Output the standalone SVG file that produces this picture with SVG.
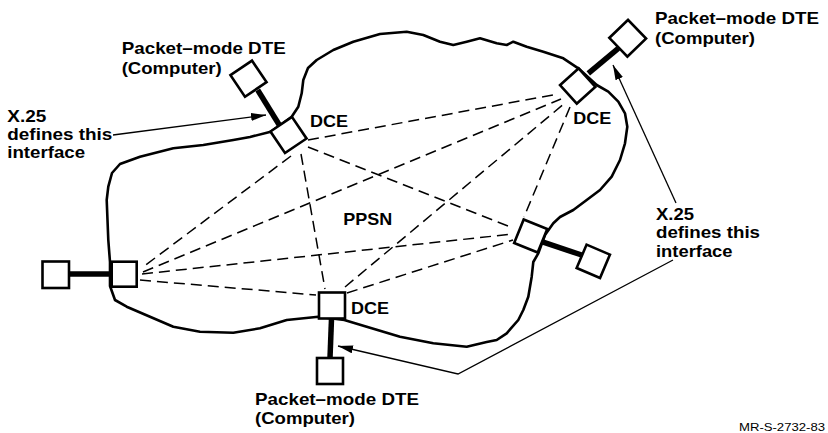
<svg xmlns="http://www.w3.org/2000/svg" width="828" height="433" viewBox="0 0 828 433">
<style>
.bg{fill:#fff}
.cloud{fill:none;stroke:#000;stroke-width:2.6;stroke-linejoin:round;stroke-linecap:round}
.box{fill:#fff;stroke:#000;stroke-width:2.6}
.dash{stroke:#000;stroke-width:1.5;stroke-dasharray:11 6;fill:none}
.link{stroke:#000;stroke-width:5.5;fill:none}
.arr{stroke:#000;stroke-width:1.3;fill:none}
.lbl{font-family:"Liberation Sans",Arial,Helvetica,sans-serif;font-weight:bold;font-size:16.5px;fill:#000}
.code{font-family:"Liberation Sans",Arial,Helvetica,sans-serif;font-size:11px;fill:#000}
</style>
<defs>
<marker id="ah" markerUnits="userSpaceOnUse" markerWidth="16" markerHeight="10" refX="15" refY="4" orient="auto">
<path d="M0,0 L15,4 L0,8 z" fill="#000"/>
</marker>
</defs>
<rect class="bg" x="0" y="0" width="828" height="433"/>
<g id="cloud">
<path class="cloud" d="M291.7,116.7 L298.3,106.7 L301.7,93.3 L303.3,80 L308,68 L316.7,60 L333.3,50 L353.3,41.7 L380,34 L406.7,31.7 L423.3,35 L440,41.7 L453.3,45 L466.7,41.7 L480,38.3 L496.7,43.3 L506.7,45 L513.3,41.7 L526.7,46.7 L543.3,51.7 L563.3,58.3 L578.3,68.3 L596.7,85 L608.3,91.7 L618.3,101.7 L625,113.3 L627.3,126.7 L625,143.3 L620,160 L611.7,176.7 L600,190 L586.7,200 L573.3,210 L560,217 L553.3,223.3 L545,235 L538.3,253.3 L533.3,262 L531.7,276.7 L528.3,296.7 L523.3,310 L518.3,320 L506.7,333.3 L496.7,340 L486.7,342 L466.7,346.7 L433.3,343.3 L400,336.7 L366.7,326.7 L344.3,320 L318.3,316.7 L286.7,320 L260,328.3 L233.3,332.7 L200,331.7 L173.3,326.7 L150,316.7 L126.7,306.7 L115,300 L110,286 L110,262 L108.3,240 L106.7,200 L108.3,186.7 L112,173 L120,164 L140,156.7 L173.3,148.3 L203.3,145 L233.3,140 L250,137 L270.7,131.7 Z"/>
</g>
<g id="connectors">
<line class="dash" x1="308" y1="140" x2="558" y2="94"/>
<line class="dash" x1="308" y1="147" x2="513" y2="228"/>
<line class="dash" x1="301" y1="154" x2="325" y2="289"/>
<line class="dash" x1="291" y1="156" x2="143" y2="267"/>
<line class="dash" x1="143" y1="272" x2="561" y2="99"/>
<line class="dash" x1="142" y1="274" x2="513" y2="234"/>
<line class="dash" x1="140" y1="280" x2="316" y2="295"/>
<line class="dash" x1="345" y1="287" x2="565" y2="103"/>
<line class="dash" x1="347" y1="293" x2="513" y2="240"/>
<line class="dash" x1="570" y1="107" x2="524" y2="217"/>
<line class="link" x1="257.7" y1="90" x2="279.3" y2="125"/>
<line class="link" x1="588.3" y1="73.3" x2="618.3" y2="48.3"/>
<line class="link" x1="69" y1="274" x2="111" y2="274"/>
<line class="link" x1="331.5" y1="319" x2="330" y2="358"/>
<line class="link" x1="541.7" y1="241.7" x2="581.7" y2="255"/>
<line class="arr" x1="113" y1="135" x2="266" y2="115" marker-end="url(#ah)"/>
<line class="arr" x1="676" y1="203" x2="613" y2="65" marker-end="url(#ah)"/>
<polyline class="arr" points="673,260 458,374 338,346" marker-end="url(#ah)"/>
</g>
<g id="dce-top-left"><rect class="box" x="-13" y="-13" width="26" height="26" transform="translate(288.5,135) rotate(-34)"/><text class="lbl" x="310" y="126.7" textLength="38" lengthAdjust="spacingAndGlyphs">DCE</text></g>
<g id="dte-top-left"><rect class="box" x="-13" y="-13" width="26" height="26" transform="translate(248.5,78.7) rotate(-34)"/><text class="lbl" x="121.7" y="54.3" textLength="164" lengthAdjust="spacingAndGlyphs">Packet–mode DTE</text><text class="lbl" x="121.7" y="74" textLength="100" lengthAdjust="spacingAndGlyphs">(Computer)</text></g>
<g id="dce-top-right"><rect class="box" x="-12.5" y="-12.5" width="25" height="25" transform="translate(577.7,86) rotate(-42)"/><text class="lbl" x="573.3" y="124" textLength="38" lengthAdjust="spacingAndGlyphs">DCE</text></g>
<g id="dte-top-right"><rect class="box" x="-13" y="-13" width="26" height="26" transform="translate(627.7,38.2) rotate(-44)"/><text class="lbl" x="655" y="23.5" textLength="164" lengthAdjust="spacingAndGlyphs">Packet–mode DTE</text><text class="lbl" x="655" y="43.5" textLength="100" lengthAdjust="spacingAndGlyphs">(Computer)</text></g>
<g id="dce-left"><rect class="box" x="111.7" y="261.7" width="25" height="25"/></g>
<g id="dte-left"><rect class="box" x="42.5" y="261.5" width="26.5" height="26.5"/></g>
<g id="dce-bottom"><rect class="box" x="319" y="292.5" width="26" height="26"/><text class="lbl" x="351" y="314.3" textLength="38" lengthAdjust="spacingAndGlyphs">DCE</text></g>
<g id="dte-bottom"><rect class="box" x="317" y="358" width="26" height="26"/><text class="lbl" x="255" y="405" textLength="164" lengthAdjust="spacingAndGlyphs">Packet–mode DTE</text><text class="lbl" x="255" y="423.5" textLength="100" lengthAdjust="spacingAndGlyphs">(Computer)</text></g>
<g id="dce-right"><rect class="box" x="-12.7" y="-12.7" width="25.4" height="25.4" transform="translate(530.7,236) rotate(22)"/></g>
<g id="dte-right"><rect class="box" x="-12.7" y="-12.7" width="25.4" height="25.4" transform="translate(593.3,261.3) rotate(23)"/></g>
<g id="ppsn"><text class="lbl" x="343.3" y="225" textLength="49" lengthAdjust="spacingAndGlyphs">PPSN</text></g>
<g id="note-left">
<text class="lbl" x="7.3" y="121.7" textLength="39" lengthAdjust="spacingAndGlyphs">X.25</text>
<text class="lbl" x="7.3" y="140" textLength="105" lengthAdjust="spacingAndGlyphs">defines this</text>
<text class="lbl" x="7.3" y="158.3" textLength="77.7" lengthAdjust="spacingAndGlyphs">interface</text>
</g>
<g id="note-right">
<text class="lbl" x="656" y="220" textLength="38" lengthAdjust="spacingAndGlyphs">X.25</text>
<text class="lbl" x="656" y="238.3" textLength="104" lengthAdjust="spacingAndGlyphs">defines this</text>
<text class="lbl" x="656" y="256.7" textLength="76.5" lengthAdjust="spacingAndGlyphs">interface</text>
</g>
<text class="code" x="739" y="430.5" textLength="86" lengthAdjust="spacingAndGlyphs">MR-S-2732-83</text>
</svg>
